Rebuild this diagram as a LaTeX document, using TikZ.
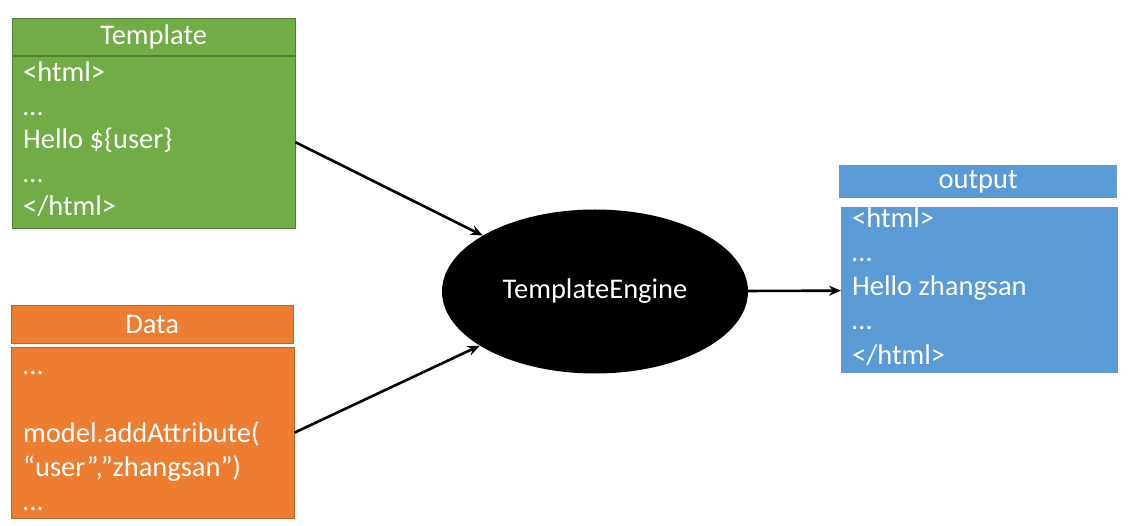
\documentclass[tikz,border=0pt]{standalone}
\usepackage{fontspec}
\setmainfont{Carlito}
\usetikzlibrary{shapes.geometric,arrows.meta}
\definecolor{tplgreen}{HTML}{70AD47}
\definecolor{tplline}{HTML}{507E32}
\definecolor{dataorange}{HTML}{ED7D31}
\definecolor{dataline}{HTML}{C0642A}
\definecolor{outblue}{HTML}{5B9BD5}

\begin{document}
\begin{tikzpicture}[x = 1pt, y = -1pt,
  box/.style={inner sep = 0pt, anchor = north west, text = white, font = \fontsize{28.5}{34}\selectfont},
  lbl/.style={inner sep = 0pt, anchor = base west, text = white, font = \fontsize{28.5}{34}\selectfont},
  arr/.style={line width = 2.6pt, -{Stealth[length = 12pt, width = 10pt]}}]
\useasboundingbox (0,0) rectangle (1140,526);
% template
\node[box, fill = tplgreen, draw = tplline, minimum width = 283pt, minimum height = 37pt] (tplhead) at (12,18) {Template};
\node[box, fill = tplgreen, draw = tplline, minimum width = 283pt, minimum height = 172pt] (tplbody) at (12,56) {};
\foreach \t [count = \i from 0] in {{<html>}, {…}, {Hello \$\{user\}}, {…}, {</html>}}{\path (23, 82+33.5*\i) node[lbl] (tpl-\i) {\t};}
% data
\node[box, fill = dataorange, draw = dataline, minimum width = 282pt, minimum height = 38pt] (datahead) at (11,305) {Data};
\node[box, fill = dataorange, draw = dataline, minimum width = 283pt, minimum height = 171pt] (databody) at (11,347) {};
\foreach \t [count = \i from 0] in {{…}, {}, {model.addAttribute(}, {“user”,”zhangsan”)}, {…}}{\path (23, 374+34*\i) node[lbl] (data-\i) {\t};}
% output
\node[box, fill = outblue, minimum width = 278pt, minimum height = 33pt] (outhead) at (839,165) {output};
\node[box, fill = outblue, minimum width = 277pt, minimum height = 166pt] (outbody) at (841,207) {};
\foreach \t [count = \i from 0] in {{<html>}, {…}, {Hello zhangsan}, {…}, {</html>}}{\path (852, 228+34*\i) node[lbl] (out-\i) {\t};}
% engine
\node[ellipse, fill = black, inner sep = 0pt, minimum width = 306pt, minimum height = 164pt, text = white, font = \fontsize{28.5}{34}\selectfont] (engine) at (595,291.5) {TemplateEngine};
\draw[arr] (tplbody.east) -- (engine);
\draw[arr] (databody.east) -- (engine);
\draw[arr] (engine) -- (outbody);
\end{tikzpicture}
\end{document}
